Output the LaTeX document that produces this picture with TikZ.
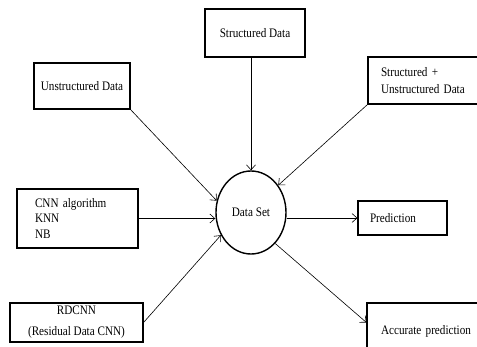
\documentclass[tikz,border=0pt]{standalone}
\usepackage{fontspec}
\setmainfont{Liberation Serif}[FakeStretch=0.86]
\usetikzlibrary{shapes.geometric, arrows.meta}

\begin{document}
\begin{tikzpicture}[x=1pt, y=-1pt,
    box/.style={draw, rectangle, line width=1.1pt, inner sep=0pt,
        font=\fontsize{13}{17}\selectfont},
    flow/.style={-{Straight Barb[length=5pt, width=9pt]}, line width=0.6pt}]
\clip (0,0) rectangle (477,347);

% inputs
\node[box, minimum width=96, minimum height=46] (unstr) at (82,86) {Unstructured Data};
\node[box, minimum width=100, minimum height=48] (str) at (255,33) {Structured Data};
\node[box, minimum width=122, minimum height=47, inner xsep=13pt, text width=96pt,
    align=left] (both) at (429,80.5) {Structured +\\Unstructured Data};
\node[box, minimum width=121, minimum height=59, inner xsep=18pt, text width=85pt,
    align=left, font=\fontsize{13}{15.5}\selectfont] (cnn) at (77.5,218.5) {CNN algorithm\\KNN\\NB};
\node[box, minimum width=133, minimum height=39, align=center,
    font=\fontsize{13}{21}\selectfont] (rd) at (76.5,322.5) {RDCNN\\(Residual Data CNN)};

% centre
\node[draw, ellipse, line width=1.4pt, minimum width=70, minimum height=83,
    inner sep=0pt, font=\fontsize{13}{15}\selectfont] (ds) at (251,212.5) {Data Set};

% outputs
\node[box, minimum width=89, minimum height=34, inner xsep=12pt, text width=65pt,
    align=left] (pred) at (402.5,218) {Prediction};
\node[box, minimum width=128, minimum height=57, inner xsep=14pt, text width=100pt,
    align=left] (acc) at (431,331.5) {Accurate prediction};

\draw[flow] (unstr.south east) -- (ds.161);
\draw[flow] (str.south -| ds.north) -- (ds.north);
\draw[flow] (both.south west) -- (ds.45);
\draw[flow] (cnn.east) -- (cnn.east -| ds.west);
\draw[flow] (rd.east) -- (ds.217);
\draw[flow] (pred.west -| ds.east) -- (pred.west);
\draw[flow] (ds.-52) -- ([yshift=9pt]acc.west);
\end{tikzpicture}
\end{document}
